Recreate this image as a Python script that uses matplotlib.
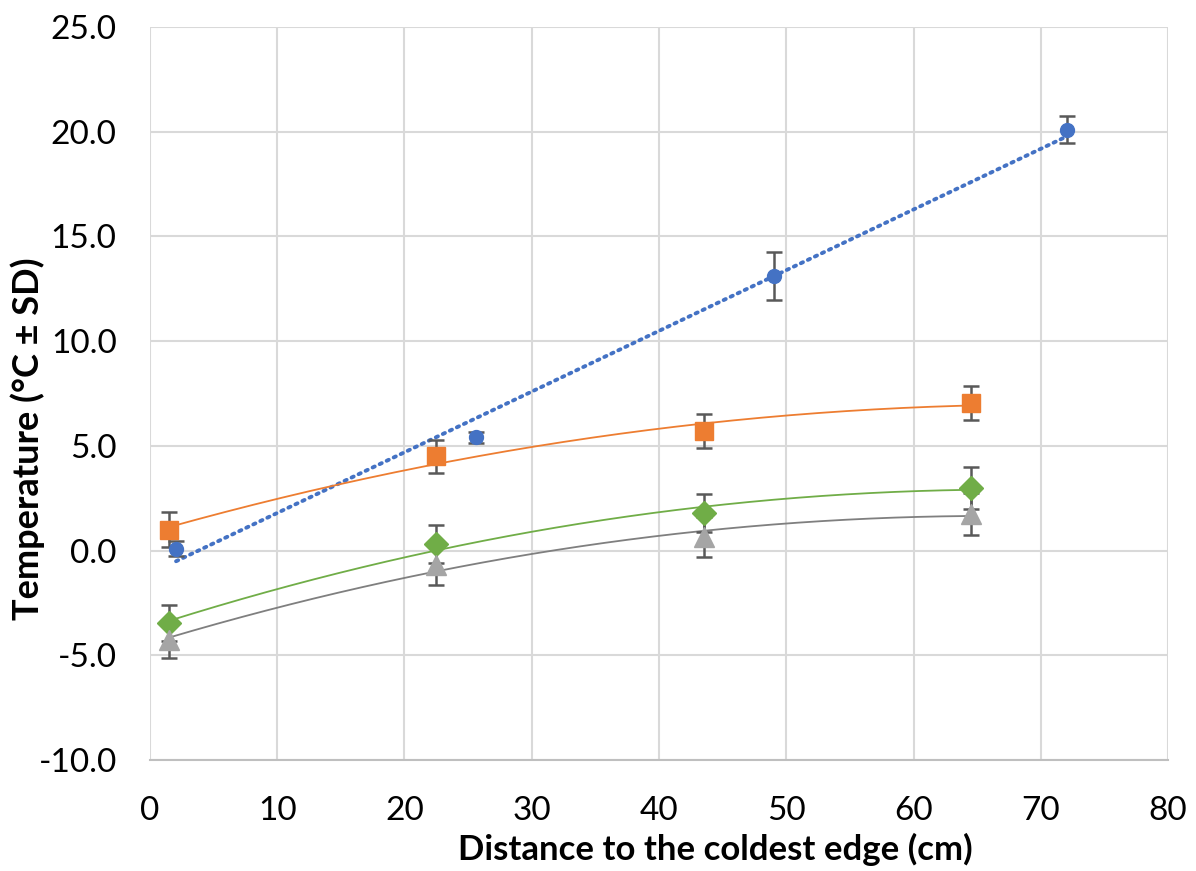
import numpy as np
import matplotlib.pyplot as plt

# Data
blue_x = [2.05, 25.6, 49.0, 72.1]
blue_y = [0.1, 5.4, 13.1, 20.1]
blue_sd = [0.35, 0.25, 1.15, 0.65]

dist = [1.5, 22.5, 43.5, 64.5]
orange_y = [1.0, 4.5, 5.7, 7.05]
orange_sd = [0.85, 0.8, 0.8, 0.8]
green_y = [-3.45, 0.3, 1.8, 3.0]
green_sd = [0.85, 0.9, 0.9, 1.0]
gray_y = [-4.25, -0.7, 0.65, 1.75]
gray_sd = [0.9, 0.95, 0.95, 1.0]

plt.rcParams['font.family'] = ['Lato', 'DejaVu Sans']

fig = plt.figure(figsize=(11.96, 8.71), dpi=100)
ax = fig.add_axes([0.1254, 0.1274, 0.8512, 0.8416])

err_kw = dict(ecolor='#595959', elinewidth=1.8, capsize=6, capthick=1.8, linestyle='none', zorder=3)

def trend(x, y, deg, color, ls, lw):
    c = np.polyfit(x, y, deg)
    xs = np.linspace(min(x), max(x), 200)
    ax.plot(xs, np.polyval(c, xs), color=color, linestyle=ls, linewidth=lw,
            dash_capstyle='round', zorder=2)

# trendlines
trend(blue_x, blue_y, 1, '#4472C4', (0, (0.6, 1.4)), 2.8)
trend(dist, orange_y, 2, '#ED7D31', '-', 1.3)
trend(dist, green_y, 2, '#70AD47', '-', 1.3)
trend(dist, gray_y, 2, '#7F7F7F', '-', 1.3)

ax.errorbar(blue_x, blue_y, yerr=blue_sd, marker='o', ms=10, mfc='#4472C4', mec='#4472C4', **err_kw)
ax.errorbar(dist, orange_y, yerr=orange_sd, marker='s', ms=13, mfc='#ED7D31', mec='#ED7D31', **err_kw)
ax.errorbar(dist, green_y, yerr=green_sd, marker='D', ms=12, mfc='#70AD47', mec='#70AD47', **err_kw)
ax.errorbar(dist, gray_y, yerr=gray_sd, marker='^', ms=15, mfc='#A5A5A5', mec='#A5A5A5', **err_kw)

ax.set_xlim(0, 80)
ax.set_ylim(-10, 25)
ax.set_xticks(np.arange(0, 81, 10))
ax.set_yticks(np.arange(-10, 26, 5))
ax.set_yticklabels([f'{v:.1f}' for v in np.arange(-10, 26, 5)])
ax.grid(True, color='#D9D9D9', linewidth=1.5)
ax.set_axisbelow(True)
for s in ['top', 'right', 'left']:
    ax.spines[s].set_visible(False)
ax.spines['bottom'].set_color('#BFBFBF')
ax.spines['bottom'].set_linewidth(1.5)
ax.tick_params(axis='x', length=0, labelsize=24, pad=26)
ax.tick_params(axis='y', length=0, labelsize=24, pad=24)

ax.set_xlabel('Distance to the coldest edge (cm)', fontsize=25, fontweight='bold')
ax.set_ylabel('Temperature (°C ± SD)', fontsize=26, fontweight='bold')
ax.xaxis.label.set_va('center')
ax.yaxis.label.set_va('center')
ax.xaxis.set_label_coords(0.555, -0.122)
ax.yaxis.set_label_coords(-0.12, 0.438)

fig.savefig('out.png', dpi=100)
